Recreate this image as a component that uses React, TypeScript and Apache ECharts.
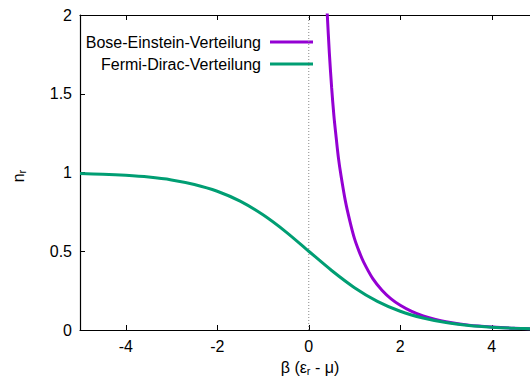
import React, { useEffect, useRef } from "react";
import * as echarts from "echarts";

const fermiX = [-5, -4.5, -4, -3.5, -3, -2.5, -2, -1.5, -1, -0.5, 0, 0.5, 1, 1.5, 2, 2.5, 3, 3.5, 4, 4.5, 5];
const fermiY = [0.993, 0.989, 0.982, 0.971, 0.953, 0.924, 0.881, 0.818, 0.731, 0.623, 0.5, 0.378, 0.269, 0.182, 0.119, 0.076, 0.047, 0.029, 0.018, 0.011, 0.007];
const boseX = [0.4, 0.45, 0.5, 0.55, 0.6, 0.65, 0.7, 0.8, 0.9, 1.0, 1.1, 1.2, 1.4, 1.6, 1.8, 2, 2.25, 2.5, 2.75, 3, 3.5, 4, 4.5, 5];
const boseY = [2.03, 1.76, 1.54, 1.36, 1.22, 1.09, 0.99, 0.82, 0.69, 0.58, 0.499, 0.431, 0.326, 0.253, 0.198, 0.157, 0.118, 0.089, 0.068, 0.052, 0.031, 0.019, 0.011, 0.007];
const xTicks = [-4, -2, 0, 2, 4];
const legendNames = ["Bose-Einstein-Verteilung", "Fermi-Dirac-Verteilung"];
const colors = ["#9400d3", "#009e73"];

export default function App() {
  const ref = useRef<HTMLDivElement>(null);
  useEffect(() => {
    const chart = echarts.init(ref.current!, null, { renderer: "svg" });
    const font = "Liberation Sans, Arial, sans-serif";
    const axisBase = {
      type: "value" as const,
      min: -5,
      max: 5,
      axisLine: { show: true, onZero: false, lineStyle: { color: "#000", width: 1.2 } },
      splitLine: { show: false },
    };
    chart.setOption({
      animation: false,
      grid: { left: 80, top: 15, width: 457.5, height: 315, outerBoundsMode: "none", containLabel: false },
      xAxis: [
        {
          ...axisBase,
          position: "bottom",
          axisTick: { show: true, inside: true, length: 5, customValues: xTicks, lineStyle: { color: "#000" } },
          axisLabel: { customValues: xTicks, color: "#000", fontFamily: font, fontSize: 16, margin: 8 },
        },
        {
          ...axisBase,
          position: "top",
          axisTick: { show: true, inside: true, length: 5, customValues: xTicks, lineStyle: { color: "#000" } },
          axisLabel: { show: false },
        },
      ],
      yAxis: {
        type: "value",
        min: 0,
        max: 2,
        interval: 0.5,
        axisLine: { show: true, onZero: false, lineStyle: { color: "#000", width: 1.2 } },
        axisTick: { show: true, inside: true, length: 5, lineStyle: { color: "#000" } },
        axisLabel: { color: "#000", fontFamily: font, fontSize: 16, margin: 8 },
        splitLine: { show: false },
      },
      series: [
        {
          type: "line",
          data: [[0, 0], [0, 2]],
          symbol: "none",
          lineStyle: { color: "#888", width: 1, type: [1, 2] },
          silent: true,
          z: 1,
        },
        {
          name: legendNames[0],
          type: "line",
          data: boseX.map((x, i) => [x, boseY[i]]),
          smooth: 0.3,
          symbol: "none",
          lineStyle: { color: colors[0], width: 3 },
          clip: true,
          z: 3,
        },
        {
          name: legendNames[1],
          type: "line",
          data: fermiX.map((x, i) => [x, fermiY[i]]),
          smooth: 0.3,
          symbol: "none",
          lineStyle: { color: colors[1], width: 3 },
          clip: true,
          z: 4,
        },
      ],
      graphic: [
        ...legendNames.map((n, i) => ({
          type: "text",
          x: 261,
          y: 42 + i * 22,
          style: { text: n, fill: "#000", font: `16px ${font}`, textAlign: "right", textVerticalAlign: "middle" },
        })),
        ...legendNames.map((n, i) => ({
          type: "line",
          shape: { x1: 270, y1: 42 + i * 22, x2: 313, y2: 42 + i * 22 },
          style: { stroke: colors[i], lineWidth: 3 },
        })),
        {
          type: "text",
          x: 18,
          y: 176,
          rotation: Math.PI / 2,
          style: {
            text: "n{s|r}",
            fill: "#000",
            font: `16px ${font}`,
            textAlign: "center",
            textVerticalAlign: "middle",
            rich: { s: { fontSize: 11, padding: [7, 0, 0, 0], fontFamily: font } },
          },
        },
        {
          type: "text",
          x: 310,
          y: 367,
          style: {
            text: "β (ε{s|r} - μ)",
            fill: "#000",
            font: `16px ${font}`,
            textAlign: "center",
            textVerticalAlign: "middle",
            rich: { s: { fontSize: 11, padding: [7, 0, 0, 0], fontFamily: font } },
          },
        },
      ],
    });
    return () => chart.dispose();
  }, []);
  return <div ref={ref} style={{ width: 530, height: 379, position: "absolute", left: 0, top: 0 }} />;
}
